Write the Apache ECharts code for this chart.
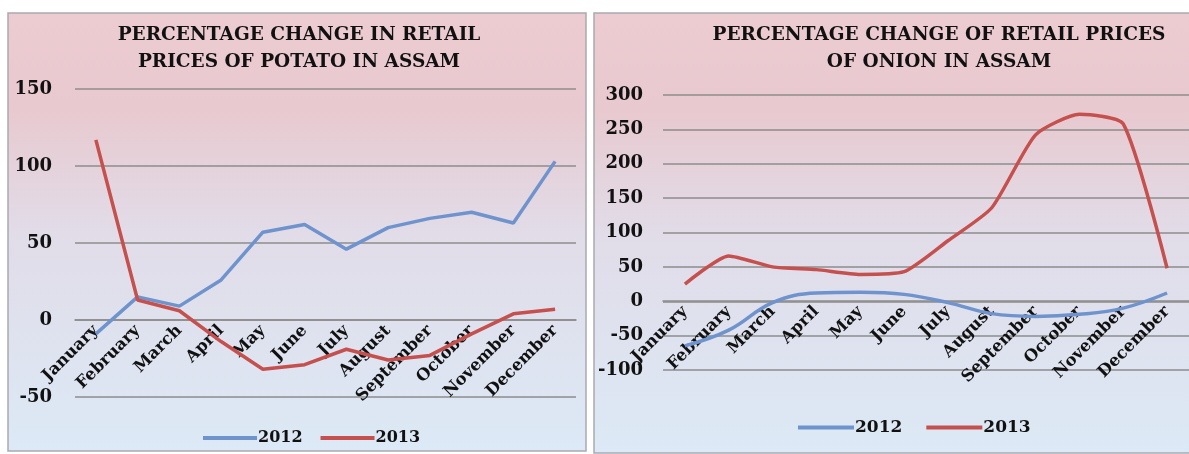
<!DOCTYPE html>
<html><head><meta charset="utf-8">
<script src="https://cdn.jsdelivr.net/npm/echarts@6/dist/echarts.min.js"></script>
<style>html,body{margin:0;padding:0;background:#fff}#c{width:1189px;height:454px}</style>
</head><body><div id="c"></div>
<script>
const months = ['January','February','March','April','May','June','July','August','September','October','November','December'];
const potato2012 = [-9, 15, 9, 26, 57, 62, 46, 60, 66, 70, 63, 103];
const potato2013 = [117, 13, 6, -14, -32, -29, -19, -26, -23, -9, 4, 7];
const onion2012 = [-65, -42, -2, 12, 13, 10, -2, -18, -22, -19, -10, 12];
const onion2013 = [25, 66, 50, 46, 39, 43, 88, 136, 242, 272, 258, 48];
const potatoTicks = {min: -50, max: 150, interval: 50};
const onionTicks = {min: -100, max: 300, interval: 50};

const FONT = 'DejaVu Serif';
const bg = {type:'linear',x:0,y:0,x2:0,y2:1,colorStops:[
  {offset:0,color:'#ecccd1'},{offset:0.22,color:'#e8c9cf'},{offset:0.5,color:'#e1dce8'},{offset:1,color:'#dce9f6'}]};
const gridLine = {show:true,lineStyle:{color:'#8c8c8c',width:1.5}};
const axisLab = {fontFamily:FONT,fontWeight:'bold',fontSize:16.5,color:'#111'};
const BLUE = '#6f93cc', RED = '#c5504e';

const chart = echarts.init(document.getElementById('c'));
chart.setOption({
  animation:false,
  graphic:[
    {type:'rect',shape:{x:8,y:13,width:578,height:438},style:{fill:bg,stroke:'#a9a9b0',lineWidth:1.5},z:-10},
    {type:'rect',shape:{x:594,y:13,width:610,height:440},style:{fill:bg,stroke:'#a9a9b0',lineWidth:1.5},z:-10}
  ],
  title:[
    {text:'PERCENTAGE CHANGE IN RETAIL\nPRICES OF POTATO IN ASSAM',left:294,top:17,textAlign:'center',
     textStyle:{fontFamily:FONT,fontWeight:'bold',fontSize:18.5,lineHeight:27,color:'#111'}},
    {text:'PERCENTAGE CHANGE OF RETAIL PRICES\nOF ONION IN ASSAM',left:934,top:17,textAlign:'center',
     textStyle:{fontFamily:FONT,fontWeight:'bold',fontSize:18.5,lineHeight:27,color:'#111'}}
  ],
  legend:[
    {data:['2012','2013'],left:198,top:425,itemWidth:54,itemHeight:4,itemGap:18,icon:'rect',
     textStyle:{fontFamily:FONT,fontWeight:'bold',fontSize:16,color:'#111',padding:[0,0,0,-4]}},
    {data:['2012','2013'],left:793,top:414,itemWidth:56,itemHeight:4,itemGap:24,icon:'rect',
     textStyle:{fontFamily:FONT,fontWeight:'bold',fontSize:17,color:'#111',padding:[0,0,0,-4]}}
  ],
  grid:[
    {left:75,right:1189-576,top:89,bottom:454-397},
    {left:663,right:-8,top:95,bottom:454-370}
  ],
  xAxis:[
    {type:'category',gridIndex:0,data:months,boundaryGap:true,position:'bottom',offset:-77,
     axisLine:{show:true,onZero:false,lineStyle:{color:'#8c8c8c',width:1.5}},axisTick:{show:false},
     axisLabel:Object.assign({rotate:45,interval:0,margin:8},axisLab)},
    {type:'category',gridIndex:1,data:months,boundaryGap:true,position:'bottom',offset:-69,
     axisLine:{show:true,onZero:false,lineStyle:{color:'#8c8c8c',width:1.5}},axisTick:{show:false},
     axisLabel:Object.assign({rotate:45,interval:0,margin:8},axisLab)}
  ],
  yAxis:[
    Object.assign({type:'value',gridIndex:0,splitLine:gridLine,axisLine:{show:false},axisTick:{show:false},
     axisLabel:Object.assign({margin:23},axisLab,{fontSize:18})},potatoTicks),
    Object.assign({type:'value',gridIndex:1,splitLine:gridLine,axisLine:{show:false},axisTick:{show:false},
     axisLabel:Object.assign({margin:20},axisLab,{fontSize:18})},onionTicks)
  ],
  series:[
    {name:'2012',type:'line',xAxisIndex:0,yAxisIndex:0,data:potato2012,showSymbol:false,lineStyle:{width:3.5,color:BLUE},itemStyle:{color:BLUE}},
    {name:'2013',type:'line',xAxisIndex:0,yAxisIndex:0,data:potato2013,showSymbol:false,lineStyle:{width:3.5,color:RED},itemStyle:{color:RED}},
    {name:'2012',type:'line',xAxisIndex:1,yAxisIndex:1,data:onion2012,showSymbol:false,smooth:0.4,lineStyle:{width:3.5,color:BLUE},itemStyle:{color:BLUE}},
    {name:'2013',type:'line',xAxisIndex:1,yAxisIndex:1,data:onion2013,showSymbol:false,smooth:0.2,lineStyle:{width:3.5,color:RED},itemStyle:{color:RED}}
  ]
});
</script></body></html>
